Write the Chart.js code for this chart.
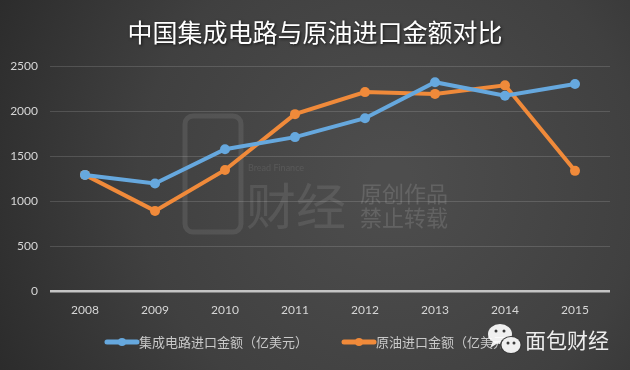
<!DOCTYPE html>
<html>
<head>
<meta charset="utf-8">
<script src="https://cdn.jsdelivr.net/npm/chart.js@4/dist/chart.umd.min.js"></script>
<style>
  html, body { margin: 0; padding: 0; background: #3a3a3a; }
  #wrap { width: 630px; height: 370px; }
</style>
</head>
<body>
<div id="wrap"><canvas id="c" width="630" height="370"></canvas></div>
<script>
const title = "中国集成电路与原油进口金额对比";
const years = ["2008", "2009", "2010", "2011", "2012", "2013", "2014", "2015"];
const icName = "集成电路进口金额（亿美元）";
const icImports = [1290, 1195, 1575, 1710, 1920, 2320, 2170, 2300];
const oilName = "原油进口金额（亿美元）";
const oilImports = [1290, 890, 1345, 1965, 2210, 2190, 2285, 1335];
const yTicks = [0, 500, 1000, 1500, 2000, 2500];

const BLUE = "#66a8de";
const ORANGE = "#f08a3a";
const CJK = "'Noto Sans CJK SC', 'Noto Sans', sans-serif";
const NUM = "Lato, 'Noto Sans', sans-serif";

const decor = {
  id: "decor",
  beforeDraw(chart) {
    const ctx = chart.ctx;
    ctx.save();
    const g = ctx.createRadialGradient(390, 180, 20, 390, 180, 440);
    g.addColorStop(0, "#4d4d4d");
    g.addColorStop(0.55, "#404040");
    g.addColorStop(1, "#2b2b2b");
    ctx.fillStyle = g;
    ctx.fillRect(0, 0, chart.width, chart.height);
    ctx.restore();
  },
  beforeDatasetsDraw(chart) {
    const ctx = chart.ctx;
    ctx.save();
    ctx.strokeStyle = "rgba(255,255,255,0.09)";
    ctx.lineWidth = 5;
    ctx.beginPath();
    ctx.roundRect(185, 116, 56, 116, 8);
    ctx.stroke();
    ctx.fillStyle = "rgba(255,255,255,0.09)";
    ctx.font = "50px " + CJK;
    ctx.textBaseline = "middle";
    ctx.textAlign = "left";
    ctx.fillText("财经", 246, 206);
    ctx.font = "9px " + NUM;
    ctx.fillText("Bread Finance", 248, 168);
    ctx.font = "22px " + CJK;
    ctx.fillStyle = "rgba(255,255,255,0.13)";
    ctx.fillText("原创作品", 360, 194);
    ctx.fillText("禁止转载", 360, 218);
    ctx.restore();
  },
  afterDraw(chart) {
    const ctx = chart.ctx;
    ctx.save();
    ctx.font = "25px " + CJK;
    ctx.fillStyle = "#ffffff";
    ctx.textAlign = "center";
    ctx.textBaseline = "middle";
    ctx.shadowColor = "rgba(0,0,0,0.7)";
    ctx.shadowBlur = 3;
    ctx.shadowOffsetX = 1;
    ctx.shadowOffsetY = 1;
    ctx.fillText(title, 315, 32);
    ctx.shadowColor = "transparent";

    ctx.font = "13px " + CJK;
    ctx.textAlign = "left";
    const ds = chart.data.datasets;
    const lineW = 34, gap = 34;
    const widths = ds.map(d => ctx.measureText(d.label).width);
    const total = ds.length * lineW + widths.reduce((a, b) => a + b, 0) + gap * (ds.length - 1);
    let x = 312 - total / 2;
    const y = 342;
    ds.forEach((d, i) => {
      ctx.strokeStyle = d.borderColor;
      ctx.lineWidth = 5;
      ctx.lineCap = "round";
      ctx.beginPath();
      ctx.moveTo(x + 2, y);
      ctx.lineTo(x + lineW - 2, y);
      ctx.stroke();
      ctx.fillStyle = d.borderColor;
      ctx.beginPath();
      ctx.arc(x + lineW / 2, y, 4, 0, Math.PI * 2);
      ctx.fill();
      ctx.fillStyle = "#c9c9c9";
      ctx.fillText(d.label, x + lineW, y);
      x += lineW + widths[i] + gap;
    });

    ctx.fillStyle = "rgba(255,255,255,0.92)";
    ctx.beginPath();
    ctx.ellipse(500, 334, 12, 10, 0, 0, Math.PI * 2);
    ctx.fill();
    ctx.beginPath();
    ctx.moveTo(493, 341); ctx.lineTo(490, 348); ctx.lineTo(498, 343); ctx.fill();
    ctx.fillStyle = "#3a3a3a";
    ctx.beginPath();
    ctx.ellipse(511, 345, 11, 9, 0, 0, Math.PI * 2);
    ctx.fill();
    ctx.fillStyle = "rgba(255,255,255,0.92)";
    ctx.beginPath();
    ctx.ellipse(511, 345, 9.5, 8, 0, 0, Math.PI * 2);
    ctx.fill();
    ctx.fillStyle = "#3a3a3a";
    [[496, 331], [504, 331], [508, 343], [514, 343]].forEach(p => {
      ctx.beginPath(); ctx.arc(p[0], p[1], 1.5, 0, Math.PI * 2); ctx.fill();
    });
    ctx.font = "21px " + CJK;
    ctx.fillStyle = "#ededed";
    ctx.textAlign = "left";
    ctx.fillText("面包财经", 525, 340);
    ctx.restore();
  }
};

new Chart(document.getElementById("c"), {
  type: "line",
  data: {
    labels: years,
    datasets: [
      {
        label: icName,
        data: icImports,
        borderColor: BLUE,
        backgroundColor: BLUE,
        borderWidth: 4,
        pointRadius: 5,
        pointHoverRadius: 5,
        pointBorderWidth: 0,
        tension: 0
      },
      {
        label: oilName,
        data: oilImports,
        borderColor: ORANGE,
        backgroundColor: ORANGE,
        borderWidth: 4,
        pointRadius: 5,
        pointHoverRadius: 5,
        pointBorderWidth: 0,
        tension: 0
      }
    ]
  },
  options: {
    responsive: false,
    animation: false,
    layout: { padding: { top: 66, right: 20, bottom: 0, left: 0 } },
    plugins: {
      legend: { display: false },
      title: { display: false },
      tooltip: { enabled: false }
    },
    scales: {
      x: {
        offset: true,
        grid: { display: false, drawTicks: false },
        border: { display: false },
        ticks: { color: "#d6d6d6", font: { family: NUM, size: 12 }, padding: 12 },
        afterFit(s) { s.height = 79; }
      },
      y: {
        min: 0,
        max: 2500,
        afterBuildTicks(s) { s.ticks = yTicks.map(v => ({ value: v })); },
        grid: {
          drawTicks: false,
          color: c => (c.tick && c.tick.value === 0 ? "#c4c4c4" : "rgba(255,255,255,0.14)"),
          lineWidth: c => (c.tick && c.tick.value === 0 ? 2.5 : 1)
        },
        border: { display: false },
        ticks: {
          color: "#d6d6d6",
          font: { family: NUM, size: 12 },
          padding: 12,
          callback: v => String(v)
        },
        afterFit(s) { s.width = 50; }
      }
    }
  },
  plugins: [decor]
});
</script>
</body>
</html>
